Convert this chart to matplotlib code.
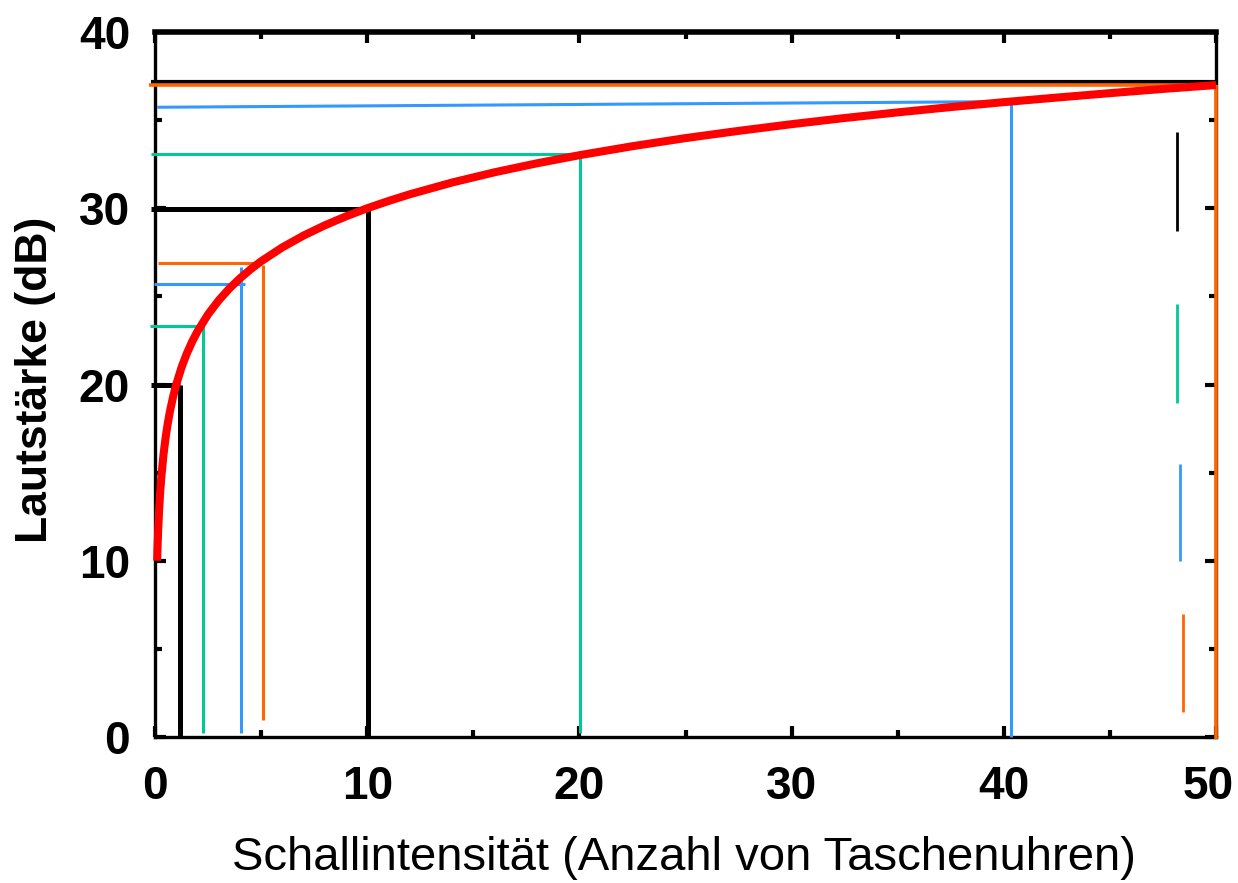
import matplotlib
matplotlib.use("Agg")
import matplotlib.pyplot as plt
from matplotlib.ticker import MultipleLocator
from matplotlib.transforms import ScaledTranslation

# ---- data ----
# red curve: loudness (dB) vs number of pocket watches
curve_x = [0.1, 0.12, 0.15, 0.2, 0.25, 0.3, 0.4, 0.5, 0.6, 0.7, 0.85, 1, 1.25, 1.5,
           1.75, 2, 2.5, 3, 3.5, 4, 4.5, 5, 6, 7, 8, 9, 10, 11, 12, 14, 16, 18, 20,
           22.5, 25, 27.5, 30, 32.5, 35, 37.5, 40, 42.5, 45, 47.5, 50]
curve_y = [10.0, 10.79, 11.76, 13.01, 13.98, 14.77, 16.02, 16.99, 17.78, 18.45, 19.29,
           20.0, 20.97, 21.76, 22.43, 23.01, 23.98, 24.77, 25.44, 26.02, 26.53, 26.99,
           27.78, 28.45, 29.03, 29.54, 30.0, 30.41, 30.79, 31.46, 32.04, 32.55, 33.01,
           33.52, 33.98, 34.39, 34.77, 35.12, 35.44, 35.74, 36.02, 36.28, 36.53, 36.77,
           36.99]

# guide lines
guide_names = ["1", "2", "4", "5", "10", "20", "40", "50"]
guide_x = [1.2, 2.25, 4.03, 5.08, 10.04, 20.03, 40.33, 50.0]
guide_vbottom = [0.0, 0.2, 0.2, 0.95, 0.0, 0.2, 0.0, -0.1]
guide_vtop = [20.0, 23.7, 26.66, 26.8, 30.0, 33.1, 36.1, 37.0]
guide_hy_left = [20.0, 23.3, 25.72, 26.88, 29.97, 33.08, 35.73, 36.98]
guide_hy_right = [20.0, 23.3, 25.72, 26.88, 29.97, 33.08, 36.05, 36.98]
guide_hx0 = [-0.2, -0.25, -0.05, 0.13, -0.2, -0.2, 0.1, -0.3]
guide_hx1 = [1.2, 2.25, 4.22, 4.9, 10.04, 20.03, 40.0, 50.0]
guide_colors = ["black", "#00C896", "#3399FF", "#FF6600",
                "black", "#00C896", "#3399FF", "#FF6600"]
guide_lw = [3.6, 2.2, 2.2, 2.2, 3.6, 2.2, 2.2, 2.6]

# top black line at ~37 dB
top_black_y = 37.15
top_black_x = [-0.2, 50.0]

# short vertical marks at the right
mark_x = [48.15, 48.15, 48.3, 48.45]
mark_y0 = [28.7, 18.95, 10.0, 1.4]
mark_y1 = [34.3, 24.55, 15.5, 6.97]
mark_colors = ["black", "#00C896", "#3399FF", "#FF6600"]

x_ticks = [0, 10, 20, 30, 40, 50]
y_ticks = [0, 10, 20, 30, 40]

# ---- figure ----
fig = plt.figure(figsize=(12.38, 8.83), dpi=100)
ax = fig.add_axes([155 / 1238, 1 - 737 / 883, (1216 - 155) / 1238, (737 - 32) / 883])
ax.set_xlim(0, 50)
ax.set_ylim(0, 40)

ax.plot(top_black_x, [top_black_y, top_black_y], color="black", lw=3.0,
        solid_capstyle="butt", clip_on=False, zorder=3)

for i in range(len(guide_x)):
    c = guide_colors[i]
    lw = guide_lw[i]
    ax.plot([guide_x[i], guide_x[i]], [guide_vbottom[i], guide_vtop[i]], color=c, lw=lw,
            solid_capstyle="butt", clip_on=False, zorder=4)
    ax.plot([guide_hx0[i], guide_hx1[i]], [guide_hy_left[i], guide_hy_right[i]], color=c,
            lw=lw, solid_capstyle="butt", clip_on=False, zorder=4)

for i in range(len(mark_x)):
    ax.plot([mark_x[i], mark_x[i]], [mark_y0[i], mark_y1[i]], color=mark_colors[i],
            lw=2.0, solid_capstyle="butt", zorder=4)

ax.plot(curve_x, curve_y, color="#FF0000", lw=5.8, solid_capstyle="butt",
        solid_joinstyle="round", clip_on=False, zorder=5)

# axes styling
for side in ["left", "bottom", "right"]:
    ax.spines[side].set_linewidth(2.4)
ax.spines["top"].set_linewidth(4.0)

ax.set_xticks(x_ticks)
ax.set_yticks(y_ticks)
ax.xaxis.set_minor_locator(MultipleLocator(5))
ax.yaxis.set_minor_locator(MultipleLocator(5))
ax.tick_params(which="both", direction="in", top=True, right=True)
ax.tick_params(which="major", length=8, width=3)
ax.tick_params(which="minor", length=5, width=3)
ax.tick_params(axis="x", which="major", pad=20)
ax.tick_params(axis="y", which="major", pad=18)

for lab in ax.get_xticklabels() + ax.get_yticklabels():
    lab.set_family("Liberation Sans")
    lab.set_fontweight("bold")
    lab.set_fontsize(33)

# keep the last x tick label inside the figure
last = ax.get_xticklabels()[-1]
last.set_transform(last.get_transform() + ScaledTranslation(-8 / 100, 0, fig.dpi_scale_trans))

fig.text(684 / 1238, 1 - 858 / 883, "Schallintensität (Anzahl von Taschenuhren)",
         ha="center", va="center", fontsize=34, family="Liberation Sans")
fig.text(36 / 1238, 1 - 380 / 883, "Lautstärke (dB)", rotation=90,
         ha="center", va="center", fontsize=32, fontweight="bold", family="Liberation Sans")

fig.savefig("out.png", dpi=100)
